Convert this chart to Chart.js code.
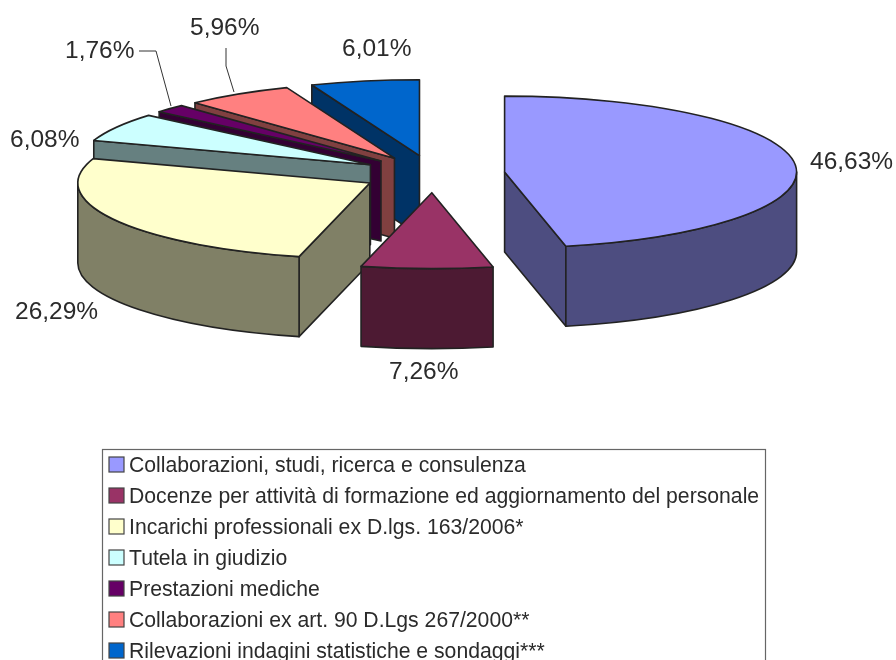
<!DOCTYPE html>
<html lang="it">
<head>
    <meta charset="UTF-8">
    <title>Incarichi</title>
    <style>
        html, body { margin: 0; padding: 0; background: #fff; overflow: hidden; }
        #wrap { width: 896px; height: 660px; }
    </style>
</head>
<body>
    <div id="wrap"><canvas id="myChart"></canvas></div>
    <script src="https://cdn.jsdelivr.net/npm/chart.js@4/dist/chart.umd.min.js"></script>
    <script>
const categories = [
    'Collaborazioni, studi, ricerca e consulenza',
    'Docenze per attività di formazione ed aggiornamento del personale',
    'Incarichi professionali ex D.lgs. 163/2006*',
    'Tutela in giudizio',
    'Prestazioni mediche',
    'Collaborazioni ex art. 90 D.Lgs 267/2000**',
    'Rilevazioni indagini statistiche e sondaggi***'
];
const values = [46.63, 7.26, 26.29, 6.08, 1.76, 5.96, 6.01];
const topColors = ['#9999ff', '#993366', '#ffffcc', '#ccffff', '#660066', '#ff8080', '#0066cc'];
const sideColors = ['#4d4d80', '#4d1a33', '#808066', '#668080', '#330033', '#804040', '#003366'];

// where each percentage text sits (left, middle)
const labelX = [810, 389, 15, 10, 65, 190, 342];
const labelY = [162, 372, 312, 140, 51, 28, 49];

const SQUASH = 0.26;
const DEPTH = 80;
const EDGE = '#222222';
const TEXT = '#2b2b2b';

// pie with a flattened top and an extruded side
class Arc3D extends Chart.ArcElement {
    static id = 'arc3d';

    apex() {
        const mid = (this.startAngle + this.endAngle) / 2;
        const off = this.options.offset;
        return { x: this.x + Math.cos(mid) * off, y: this.y + Math.sin(mid) * off * SQUASH };
    }

    draw(ctx) {
        const a = this.apex();
        const rx = this.outerRadius;
        const ry = rx * SQUASH;
        const s = this.startAngle;
        const e = this.endAngle;

        ctx.save();
        ctx.lineWidth = 1.6;
        ctx.lineJoin = 'round';
        ctx.strokeStyle = EDGE;
        ctx.fillStyle = sideColors[topColors.indexOf(this.options.backgroundColor)];

        // flat cut faces, only the ones turned to the viewer
        [[s, Math.cos(s) < -1e-6], [e, Math.cos(e) > 1e-6]].forEach(([ang, visible]) => {
            if (!visible) return;
            const px = a.x + Math.cos(ang) * rx;
            const py = a.y + Math.sin(ang) * ry;
            ctx.beginPath();
            ctx.moveTo(a.x, a.y);
            ctx.lineTo(px, py);
            ctx.lineTo(px, py + DEPTH);
            ctx.lineTo(a.x, a.y + DEPTH);
            ctx.closePath();
            ctx.fill();
            ctx.stroke();
        });

        // outer wall, front half of the ellipse
        const w0 = Math.max(s, 0);
        const w1 = Math.min(e, Math.PI);
        if (w1 > w0) {
            ctx.beginPath();
            ctx.ellipse(a.x, a.y, rx, ry, 0, w0, w1);
            ctx.ellipse(a.x, a.y + DEPTH, rx, ry, 0, w1, w0, true);
            ctx.closePath();
            ctx.fill();
            ctx.stroke();
        }

        // top
        ctx.fillStyle = this.options.backgroundColor;
        ctx.beginPath();
        ctx.moveTo(a.x, a.y);
        ctx.ellipse(a.x, a.y, rx, ry, 0, s, e);
        ctx.closePath();
        ctx.fill();
        ctx.stroke();
        ctx.restore();
    }
}

class Pie3D extends Chart.PieController {
    static id = 'pie3d';
    static defaults = { dataElementType: 'arc3d' };

    draw() {
        const ctx = this.chart.ctx;
        // back slices first
        const arcs = this.getMeta().data.slice().sort((p, q) => p.apex().y - q.apex().y);
        arcs.forEach(arc => arc.draw(ctx));
    }
}

Chart.register(Arc3D, Pie3D);

const textPlugin = {
    id: 'textPlugin',
    afterDraw(chart) {
        const ctx = chart.ctx;
        ctx.save();
        ctx.fillStyle = TEXT;
        ctx.textBaseline = 'middle';
        ctx.textAlign = 'left';

        // percentages
        ctx.font = '24.5px "Liberation Sans", Arial, sans-serif';
        values.forEach((v, i) => {
            ctx.fillText(v.toFixed(2).replace('.', ',') + '%', labelX[i], labelY[i]);
        });

        // leader lines for the two small slices
        ctx.strokeStyle = '#333333';
        ctx.lineWidth = 1;
        ctx.beginPath();
        ctx.moveTo(139, 51); ctx.lineTo(156, 51); ctx.lineTo(171, 106);
        ctx.moveTo(226, 48); ctx.lineTo(226, 66); ctx.lineTo(234, 92);
        ctx.stroke();

        // legend, runs off the bottom of the page as in the original
        ctx.strokeStyle = '#666666';
        ctx.lineWidth = 1.2;
        ctx.strokeRect(102.5, 449.5, 663, 240);
        ctx.font = '21.2px "Liberation Sans", Arial, sans-serif';
        categories.forEach((name, i) => {
            const y = 465 + i * 31;
            ctx.fillStyle = topColors[i];
            ctx.strokeStyle = '#444444';
            ctx.fillRect(109, y - 8, 15, 15);
            ctx.strokeRect(109, y - 8, 15, 15);
            ctx.fillStyle = TEXT;
            ctx.fillText(name, 129, y + 1);
        });
        ctx.restore();
    }
};

new Chart(document.getElementById('myChart').getContext('2d'), {
    type: 'pie3d',
    data: {
        labels: categories,
        datasets: [{
            data: values,
            backgroundColor: topColors,
            offset: 72,
            clip: false
        }]
    },
    options: {
        responsive: true,
        maintainAspectRatio: false,
        animation: false,
        radius: 292,
        layout: { padding: { left: 0, top: 0, right: 30, bottom: 312 } },
        plugins: { legend: { display: false }, tooltip: { enabled: false } }
    },
    plugins: [textPlugin]
});
    </script>
</body>
</html>
